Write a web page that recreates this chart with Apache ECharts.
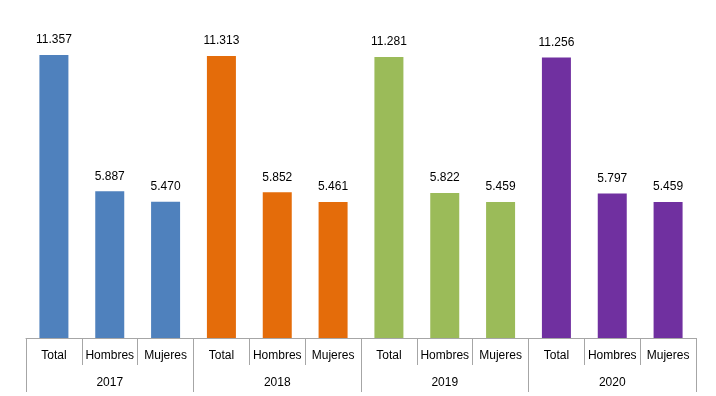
<!DOCTYPE html>
<html>
<head>
<meta charset="utf-8">
<script src="https://cdn.jsdelivr.net/npm/echarts@6/dist/echarts.min.js"></script>
<style>
  html, body { margin: 0; padding: 0; background: #fff; }
  #chart { width: 716px; height: 396px; }
</style>
</head>
<body>
<div id="chart"></div>
<script>
const years = ['2017', '2018', '2019', '2020'];
const groups = ['Total', 'Hombres', 'Mujeres'];
const values = [11357, 5887, 5470, 11313, 5852, 5461, 11281, 5822, 5459, 11256, 5797, 5459];
const yearColors = ['#4F81BD', '#E46C0A', '#9BBB59', '#7030A0'];

const categories = [];
years.forEach(() => groups.forEach(g => categories.push(g)));

const fmt = v => String(v).replace(/\B(?=(\d{3})+(?!\d))/g, '.');

const chart = echarts.init(document.getElementById('chart'));
const axisColor = '#A6A6A6';
const font = 'Liberation Sans, Arial, sans-serif';

chart.setOption({
  animation: false,
  grid: { left: 26, right: 20, top: 39, bottom: 58 },
  xAxis: [
    {
      type: 'category',
      data: categories,
      position: 'bottom',
      axisLine: { show: true, lineStyle: { color: axisColor, width: 1 } },
      axisTick: { show: true, length: 27, interval: 0, alignWithLabel: false, lineStyle: { color: axisColor } },
      axisLabel: { interval: 0, margin: 12, color: '#000', fontSize: 12, fontFamily: font }
    },
    {
      type: 'category',
      data: years,
      position: 'bottom',
      gridIndex: 0,
      axisLine: { show: false },
      axisTick: { show: true, length: 54, interval: 0, alignWithLabel: false, lineStyle: { color: axisColor } },
      axisLabel: { interval: 0, margin: 39, color: '#000', fontSize: 12, fontFamily: font }
    }
  ],
  yAxis: { type: 'value', min: 0, max: 12000, show: false, splitLine: { show: false } },
  series: [
    {
      type: 'bar',
      xAxisIndex: 0,
      barWidth: 29,
      data: values,
      itemStyle: { color: p => yearColors[Math.floor(p.dataIndex / groups.length)] },
      label: {
        show: true,
        position: 'top',
        distance: 9,
        color: '#000',
        fontSize: 12,
        fontFamily: font,
        formatter: p => fmt(p.value)
      }
    }
  ]
});
</script>
</body>
</html>
